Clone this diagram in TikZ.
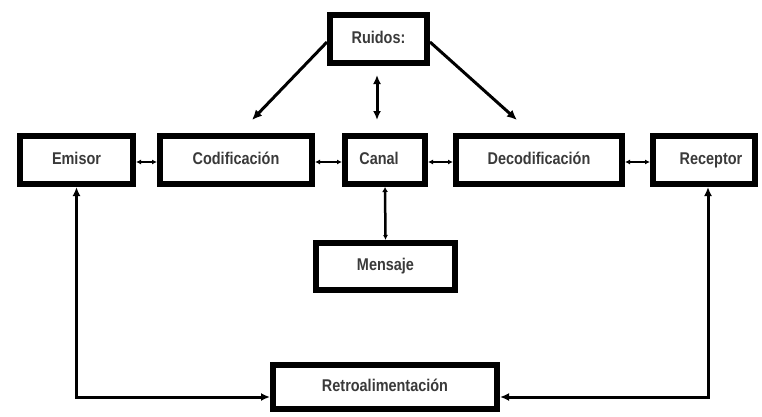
\documentclass[tikz,border=0pt]{standalone}
\usepackage{fontspec}
\newfontfamily\lblfont[FakeStretch=0.85]{Liberation Sans}
\usetikzlibrary{arrows.meta}
\definecolor{txt}{HTML}{3A3A3A}
\tikzset{
  box/.style={draw=black, line width=6pt, fill=white, inner sep=0pt,
    minimum height=48pt, text=txt, text height=12pt, text depth=3.5pt,
    font=\lblfont\bfseries\fontsize{17}{19}\selectfont},
  link/.style={line width=1.8pt, {Latex[length=5pt,width=5pt]}-{Latex[length=5pt,width=5pt]}},
  flow/.style={line width=3pt, -{Latex[length=10pt,width=9pt]}},
  both/.style={line width=3pt, {Latex[length=9pt,width=8pt]}-{Latex[length=9pt,width=8pt]}},
}
\begin{document}
\begin{tikzpicture}[x=1pt,y=1pt]
  \useasboundingbox (0,0) rectangle (762,416);
  \fill[white] (0,0) rectangle (762,416);

  % main chain of the communication process
  \node[box, minimum width=113pt] (emi) at (76.5,256) {Emisor};
  \node[box, minimum width=152pt] (cod) at (236,256) {Codificación};
  \node[box, minimum width=80pt]  (can) at (385,256) {Canal\hspace*{12pt}};
  \node[box, minimum width=166pt] (dec) at (539,256) {Decodificación};
  \node[box, minimum width=102pt] (rec) at (704,256) {\hspace*{14pt}Receptor};

  % noise, message and feedback
  \node[box, minimum width=97pt]  (rui) at (378.5,377) {Ruidos:};
  \node[box, minimum width=139pt, minimum height=47pt] (men) at (385.5,149.5) {Mensaje};
  \node[box, minimum width=224pt, minimum height=44pt] (ret) at (385,29) {Retroalimentación};

  % free ends of the noise arrows
  \coordinate (nl) at (252,296);
  \coordinate (nr) at (517,296);
  \coordinate (nt) at (377,341);
  \coordinate (nb) at (377,296);

  \draw[link] ([yshift=-2pt]emi.east) -- ([yshift=-2pt]cod.west);
  \draw[link] ([yshift=-2pt]cod.east) -- ([yshift=-2pt]can.west);
  \draw[link] ([yshift=-2pt]can.east) -- ([yshift=-2pt]dec.west);
  \draw[link] ([yshift=-2pt]dec.east) -- ([yshift=-2pt]rec.west);

  \draw[flow] ([yshift=-3pt]rui.west) -- (nl);
  \draw[flow] ([yshift=-3pt]rui.east) -- (nr);
  \draw[both] (nt) -- (nb);

  \draw[line width=2.5pt, {Latex[length=5pt,width=6pt]}-{Latex[length=5pt,width=5pt]}]
    (can.south) -- (men.north);

  \draw[both] (emi.south) |- ([yshift=-10pt]ret.west);
  \draw[both] ([xshift=4pt]rec.south) |- ([yshift=-10pt]ret.east);
\end{tikzpicture}
\end{document}
